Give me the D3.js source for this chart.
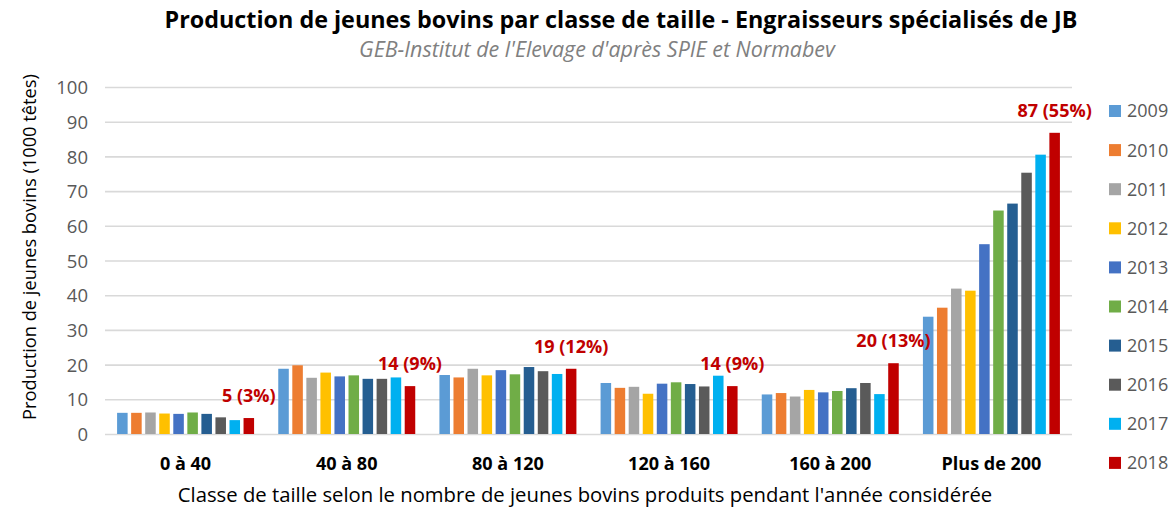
<!DOCTYPE html>
<html>
<head>
<meta charset="utf-8">
<script src="https://cdn.jsdelivr.net/npm/d3@7"></script>
<style>
  html, body { margin: 0; padding: 0; background: #ffffff; }
  svg { display: block; }
</style>
</head>
<body>
<svg id="chart" width="1173" height="509"></svg>
<script>
// ---- Data ----
const categories = ["0 à 40", "40 à 80", "80 à 120", "120 à 160", "160 à 200", "Plus de 200"];
const years = ["2009", "2010", "2011", "2012", "2013", "2014", "2015", "2016", "2017", "2018"];
const v2009 = [6.1, 18.8, 17.0, 14.7, 11.4, 33.8];
const v2010 = [6.1, 19.8, 16.3, 13.3, 11.8, 36.4];
const v2011 = [6.2, 16.2, 18.8, 13.6, 10.8, 41.9];
const v2012 = [5.9, 17.7, 16.9, 11.6, 12.7, 41.3];
const v2013 = [5.8, 16.6, 18.4, 14.5, 12.0, 54.7];
const v2014 = [6.2, 16.9, 17.2, 14.9, 12.4, 64.4];
const v2015 = [5.8, 15.9, 19.3, 14.4, 13.2, 66.4];
const v2016 = [4.8, 15.9, 18.1, 13.7, 14.7, 75.3];
const v2017 = [4.0, 16.3, 17.3, 16.8, 11.5, 80.5];
const v2018 = [4.6, 13.8, 18.8, 13.8, 20.4, 86.8];
const seriesValues = [v2009, v2010, v2011, v2012, v2013, v2014, v2015, v2016, v2017, v2018];
const annotations = ["5 (3%)", "14 (9%)", "19 (12%)", "14 (9%)", "20 (13%)", "87 (55%)"];
const yTicks = [0, 10, 20, 30, 40, 50, 60, 70, 80, 90, 100];
const colors = ["#5B9BD5", "#ED7D31", "#A5A5A5", "#FFC000", "#4472C4", "#70AD47", "#255E91", "#5A5A5A", "#00B0F0", "#C00000"];

const titleText = "Production de jeunes bovins par classe de taille - Engraisseurs spécialisés de JB";
const subtitleText = "GEB-Institut de l'Elevage d'après SPIE et Normabev";
const yTitleText = "Production de jeunes bovins (1000 têtes)";
const xTitleText = "Classe de taille selon le nombre de jeunes bovins produits pendant l'année considérée";

// ---- Layout ----
const FONT = "'Open Sans', 'Noto Sans', sans-serif";
const svg = d3.select("#chart");
const plot = { left: 105, right: 1072, top: 87, bottom: 434 };

function fit(sel, width) {
  const node = sel.node();
  const size = parseFloat(sel.attr("font-size"));
  const len = node.getComputedTextLength();
  sel.attr("font-size", (size * width / len).toFixed(2));
  return sel;
}

const x0 = d3.scaleBand().domain(categories).range([plot.left, plot.right])
  .paddingInner(0.15).paddingOuter(0.075);
const x1 = d3.scaleBand().domain(years).range([0, x0.bandwidth()]).paddingInner(0.25);
const y = d3.scaleLinear().domain([0, 100]).range([plot.bottom, plot.top]);
const color = d3.scaleOrdinal().domain(years).range(colors);

// gridlines
const yAxis = d3.axisLeft(y).tickValues(yTicks).tickSize(-(plot.right - plot.left)).tickPadding(17);
const gy = svg.append("g").attr("transform", `translate(${plot.left},0)`).call(yAxis);
gy.select(".domain").remove();
gy.selectAll(".tick line").attr("stroke", "#D9D9D9").attr("stroke-width", 1.6);
gy.selectAll(".tick text").attr("fill", "#595959").attr("font-family", FONT)
  .attr("font-size", 18.5).attr("dy", "0.36em");

// bars
const groups = svg.append("g").selectAll("g").data(categories).join("g")
  .attr("transform", d => `translate(${x0(d)},0)`);
groups.selectAll("rect")
  .data((c, ci) => years.map((yr, yi) => ({ year: yr, value: seriesValues[yi][ci] })))
  .join("rect")
  .attr("x", d => x1(d.year))
  .attr("width", x1.bandwidth())
  .attr("y", d => y(d.value))
  .attr("height", d => y(0) - y(d.value))
  .attr("fill", d => color(d.year));

// annotations over 2018 bars
svg.append("g").selectAll("text").data(categories).join("text")
  .attr("x", (c) => x0(c) + x1("2018") + x1.bandwidth() / 2)
  .attr("y", (c, i) => y(v2018[i]) - 16)
  .attr("text-anchor", "middle")
  .attr("font-family", FONT).attr("font-weight", "bold").attr("font-size", 18)
  .attr("fill", "#C00000")
  .text((c, i) => annotations[i]);

// x category labels
const xAxis = d3.axisBottom(x0).tickSize(0).tickPadding(0);
const gx = svg.append("g").attr("transform", `translate(0,${plot.bottom})`).call(xAxis);
gx.select(".domain").remove();
gx.selectAll(".tick text").attr("fill", "#000").attr("font-family", FONT)
  .attr("font-weight", "bold").attr("font-size", 18).attr("dy", 0).attr("y", 36);

// legend
const legend = svg.append("g").selectAll("g").data(years).join("g")
  .attr("transform", (d, i) => `translate(1109,${111 + i * 39.1})`);
legend.append("rect").attr("x", 0).attr("y", -6).attr("width", 12).attr("height", 12)
  .attr("fill", d => color(d));
legend.append("text").attr("x", 18).attr("y", 0).attr("dy", "0.36em")
  .attr("font-family", FONT).attr("font-size", 18).attr("fill", "#595959")
  .text(d => d);

// titles
const t = svg.append("text").attr("x", 621).attr("y", 28).attr("text-anchor", "middle")
  .attr("font-family", FONT).attr("font-weight", "bold").attr("font-size", 20)
  .attr("fill", "#000").text(titleText);
fit(t, 913);
const st = svg.append("text").attr("x", 597).attr("y", 57).attr("text-anchor", "middle")
  .attr("font-family", FONT).attr("font-style", "italic").attr("font-size", 16)
  .attr("fill", "#808080").text(subtitleText);
fit(st, 476);
const yt = svg.append("text").attr("transform", "translate(36,247) rotate(-90)")
  .attr("text-anchor", "middle").attr("font-family", FONT).attr("font-size", 16)
  .attr("fill", "#000").text(yTitleText);
fit(yt, 346);
const xt = svg.append("text").attr("x", 585).attr("y", 502).attr("text-anchor", "middle")
  .attr("font-family", FONT).attr("font-size", 18).attr("fill", "#000").text(xTitleText);
fit(xt, 815);
</script>
</body>
</html>
